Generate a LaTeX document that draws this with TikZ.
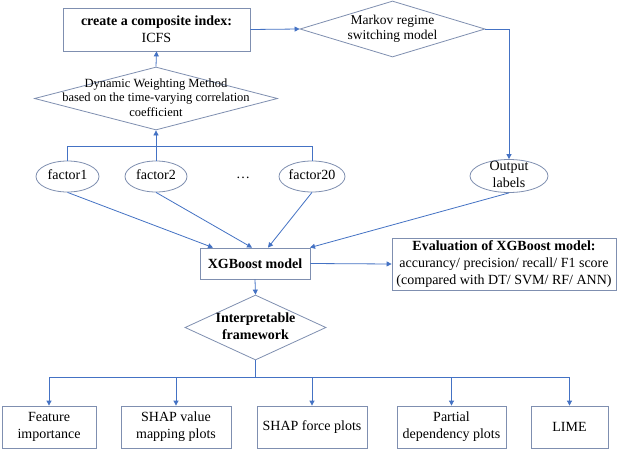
\documentclass[tikz,border=0pt]{standalone}
\usepackage{fontspec}
\setmainfont{Liberation Serif}
\usetikzlibrary{shapes.geometric,arrows.meta}
\definecolor{linec}{HTML}{4472C4}
\definecolor{boxc}{HTML}{7F8FB0}
\newcommand\ztext[1]{\smash{\makebox[0pt]{\raisebox{-0.25em}{\begin{tabular}{@{}c@{}}#1\end{tabular}}}}}
\tikzset{
  base/.style={draw=boxc, line width=0.8pt, inner sep=0pt, font=\fontsize{14}{17}\selectfont},
  rbox/.style={base, rectangle, align=center},
  dbox/.style={base, diamond},
  ebox/.style={base, ellipse},
  arr/.style={draw=linec, line width=0.8pt, -{Triangle[width=5pt,length=5pt]}},
  ln/.style={draw=linec, line width=0.8pt},
}
\begin{document}
\begin{tikzpicture}[x=1pt,y=-1pt]
\useasboundingbox[fill=white] (0,0) rectangle (622,450);
% top
\node[rbox, minimum width=187pt, minimum height=43pt] (icfs) at (156.5,29.5)
  {\textbf{create a composite index:}\\ICFS};
\node[dbox, minimum width=185pt, minimum height=56pt] (markov) at (392.5,29)
  {\fontsize{13.5}{15.5}\selectfont\ztext{Markov regime\\switching model}};
\node[dbox, minimum width=243pt, minimum height=63pt] (dyn) at (156,98.5)
  {\fontsize{12.5}{14.5}\selectfont\ztext{Dynamic Weighting Method\\based on the time-varying correlation\\coefficient}};
% factors
\node[ebox, minimum width=63pt, minimum height=31pt] (f1) at (67.5,176.5) {\ztext{factor1}};
\node[ebox, minimum width=62pt, minimum height=31pt] (f2) at (156,176.5) {\ztext{factor2}};
\node[font=\fontsize{14}{17}\selectfont, inner sep=0pt] (dots) at (243,178) {\dots};
\node[ebox, minimum width=66pt, minimum height=31pt] (f20) at (312,176.5) {\ztext{factor20}};
\node[ebox, minimum width=78pt, minimum height=33pt] (out) at (509,176) {\ztext{Output\\labels}};
% middle
\node[rbox, minimum width=110pt, minimum height=31pt] (xgb) at (255,263.5) {\textbf{XGBoost model}};
\node[rbox, minimum width=224pt, minimum height=52pt] (eval) at (504,264)
  {\textbf{Evaluation of XGBoost model:}\\accurancy/ precision/ recall/ F1 score\\(compared with DT/ SVM/ RF/ ANN)};
\node[dbox, minimum width=141pt, minimum height=65pt] (interp) at (255.5,327.5)
  {\ztext{\textbf{Interpretable}\\\textbf{framework}}};
% bottom
\node[rbox, minimum width=94pt, minimum height=42pt] (fi) at (49,427) {Feature\\importance};
\node[rbox, minimum width=110pt, minimum height=42pt] (sv) at (176,427) {SHAP value\\mapping plots};
\node[rbox, minimum width=110pt, minimum height=42pt] (sf) at (312,427) {SHAP force plots};
\node[rbox, minimum width=109pt, minimum height=42pt] (pd) at (451.5,427) {Partial\\dependency plots};
\node[rbox, minimum width=77pt, minimum height=42pt] (lime) at (569.5,427) {LIME};
% connectors
\draw[arr] (icfs.east) -- (markov.west);
\draw[arr] (markov.east) -| (out.north);
\draw[arr] (dyn.north) -- (icfs.south);
\draw[ln] (f1.north) -- ++(0,-14.5) -| (f20.north);
\draw[arr] (f2.north) -- (dyn.south);
\draw[arr] (f1.south) -- ([xshift=-42pt]xgb.north);
\draw[arr] (f2.south) -- ([xshift=-3pt]xgb.north);
\draw[arr] (f20.south) -- ([xshift=13pt]xgb.north);
\draw[arr] (out.south) -- ([xshift=55pt]xgb.north);
\draw[arr] (xgb.east) -- (eval.west);
\draw[arr] (xgb.south) -- (interp.north);
\coordinate (bj) at (255.5,377);
\draw[ln] (interp.south) -- (bj);
\draw[arr] (bj) -| (fi.north);
\draw[arr] (bj) -| (sv.north);
\draw[arr] (bj) -| (sf.north);
\draw[arr] (bj) -| (pd.north);
\draw[arr] (bj) -| (lime.north);
\end{tikzpicture}
\end{document}
